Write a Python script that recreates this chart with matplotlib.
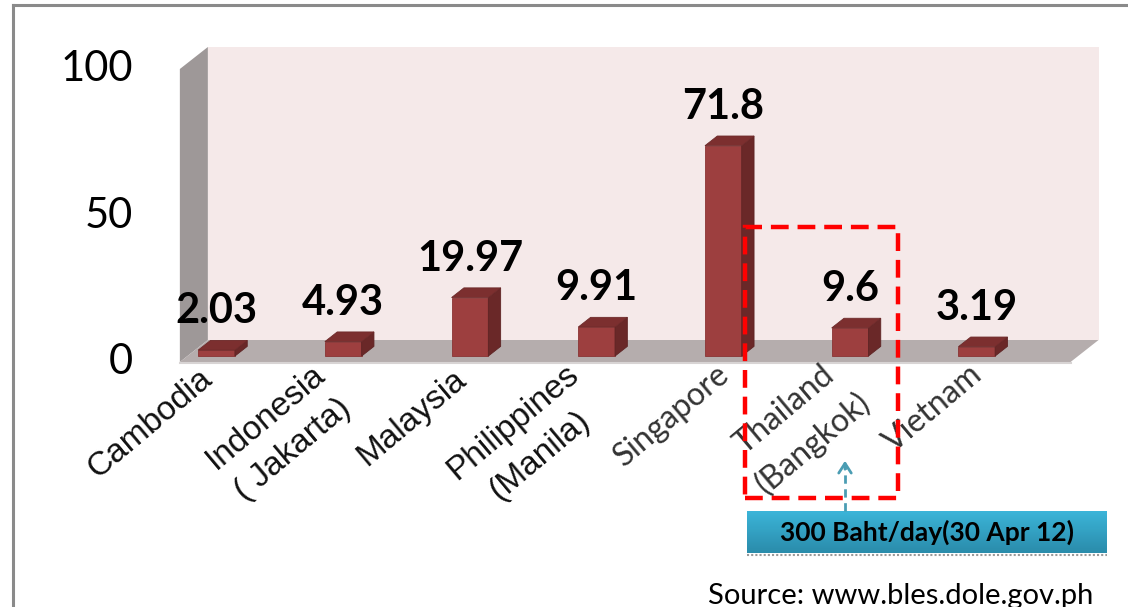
import matplotlib

matplotlib.use('Agg')
import numpy as np
import matplotlib.pyplot as plt
from matplotlib.patches import Polygon, Rectangle
from matplotlib.lines import Line2D

# Minimum wage data (US$/day)
countries = ['Cambodia', 'Indonesia\n( Jakarta)', 'Malaysia', 'Philippines\n(Manila)',
             'Singapore', 'Thailand\n(Bangkok)', 'Vietnam']
wages = [2.03, 4.93, 19.97, 9.91, 71.8, 9.6, 3.19]
y_ticks = [0, 50, 100]
note = '300 Baht/day(30 Apr 12)'
source = 'Source: www.bles.dole.gov.ph'

W, H = 1128, 607
fig = plt.figure(figsize=(W / 100, H / 100), dpi=100)
ax = fig.add_axes([0, 0, 1, 1])

# scale of the fake 3d chart: pixels per category / per value unit
px_cat, px_val = 126.7, 2.93
x0_px, y0_px = 209, 362          # category 0, value 0 on the front plane
ax.set_xlim(-x0_px / px_cat, (W - x0_px) / px_cat)
ax.set_ylim((y0_px - H) / px_val, y0_px / px_val)
ax.axis('off')


def fx(px):
    return px / W


def fy(py):
    return 1 - py / H


dx, dy = 28 / px_cat, 22 / px_val   # full depth of the floor
ymax = y_ticks[-1]
xl, xr = -0.23, len(wages) - 0.2


def poly(pts, fc, z, ec='none', lw=0):
    ax.add_patch(Polygon(pts, closed=True, facecolor=fc, edgecolor=ec, lw=lw, zorder=z))


# walls and floor
poly([(xl + dx, dy), (xr + dx, dy), (xr + dx, ymax + dy), (xl + dx, ymax + dy)], '#f5e9e9', 1)
poly([(xl, 0), (xl + dx, dy), (xl + dx, ymax + dy), (xl, ymax)], '#9e9898', 2)
poly([(xl, 0), (xr, 0), (xr + dx, dy), (xl + dx, dy)], '#b5adad', 2)
ax.plot([xl, xr], [-0.4, -0.4], color='#d8d4d4', lw=1.5, zorder=2)

# bars
bw, f, t = 0.145, 0.27, 0.44
for i, v in enumerate(wages):
    bx, by = i + f * dx, f * dy
    l, r = bx - bw, bx + bw
    ox, oy = t * dx, t * dy
    poly([(l, by), (r, by), (r, by + v), (l, by + v)], '#9d3f3f', 4, '#8a3434', 0.6)
    poly([(r, by), (r + ox, by + oy), (r + ox, by + v + oy), (r, by + v)], '#6a2828', 4, '#5e2424', 0.6)
    poly([(l, by + v), (r, by + v), (r + ox, by + v + oy), (l + ox, by + v + oy)], '#7c2f2f', 4, '#6e2a2a', 0.6)
    ax.text(bx, by + v + 13.3, str(v), ha='center', va='center', fontsize=30,
            fontweight='bold', family='Lato', color='black', zorder=6)

    # rotated category label, right edge centred under the bar
    nl = countries[i].count('\n')
    arial = i < 4
    ax.text(bx + (-0.065 if arial else 0.015), (-4.5 if arial else -2.8) - 4.0 * nl,
            countries[i], rotation=40, rotation_mode='anchor',
            ha='right', va='center', multialignment='center', linespacing=1.5,
            fontsize=24 if arial else 23, family='Liberation Sans' if arial else 'Lato',
            color='#111111' if arial else '#333333', zorder=6)

# y tick labels on the side wall
for v in y_ticks:
    ax.text(xl - 47 / px_cat, v, str(v), ha='right', va='center', fontsize=30,
            family='Lato', color='black', zorder=6)

# highlight box around Thailand
ax.add_patch(Rectangle((fx(745), fy(498)), (898 - 745) / W, (498 - 227) / H,
                       transform=ax.transAxes, fill=False, ec='#ff0000', lw=3.2,
                       ls=(0, (4, 2)), zorder=8))

# note box with gradient
top_c = np.array([0x3b, 0xb4, 0xd8]) / 255
bot_c = np.array([0x2a, 0x8c, 0xab]) / 255
n = 40
bx0, bx1, by0, by1 = 747, 1107, 511, 553
for k in range(n):
    c = top_c + (bot_c - top_c) * k / (n - 1)
    yy = by0 + (by1 - by0) * k / n
    ax.add_patch(Rectangle((fx(bx0), fy(yy + (by1 - by0) / n)), (bx1 - bx0) / W,
                           (by1 - by0) / n / H + 0.0005, transform=ax.transAxes,
                           fc=c, ec='none', zorder=7))
ax.plot([fx(bx0), fx(bx1)], [fy(by1 + 2), fy(by1 + 2)], transform=ax.transAxes,
        color='#9a9a9a', lw=1.5, ls=(0, (1, 1)), zorder=7)
ax.text(fx((bx0 + bx1) / 2), fy((by0 + by1) / 2), note, transform=ax.transAxes,
        ha='center', va='center', fontsize=19, fontweight='bold', family='Lato',
        color='black', zorder=9)

# dashed arrow from the note to the label
ax.plot([fx(845), fx(845)], [fy(511), fy(466)], transform=ax.transAxes,
        color='#4b9db3', lw=2, ls=(0, (3, 2)), zorder=8)
ax.annotate('', xy=(fx(845), fy(458)), xytext=(fx(845), fy(472)),
            xycoords='axes fraction', textcoords='axes fraction',
            arrowprops=dict(arrowstyle='->,head_length=0.7,head_width=0.45',
                            color='#4b9db3', lw=2), zorder=8)

ax.text(fx(1093), fy(604), source, transform=ax.transAxes, ha='right',
        va='baseline', fontsize=21, family='Lato', color='black', zorder=9)

# slide frame
fig.add_artist(Line2D([fx(13), fx(13)], [0, fy(5)], color='#8a8a8a', lw=2.2))
fig.add_artist(Line2D([fx(13), 1], [fy(5), fy(5)], color='#8a8a8a', lw=2.2))

fig.savefig('out.png', dpi=100, facecolor='white')
